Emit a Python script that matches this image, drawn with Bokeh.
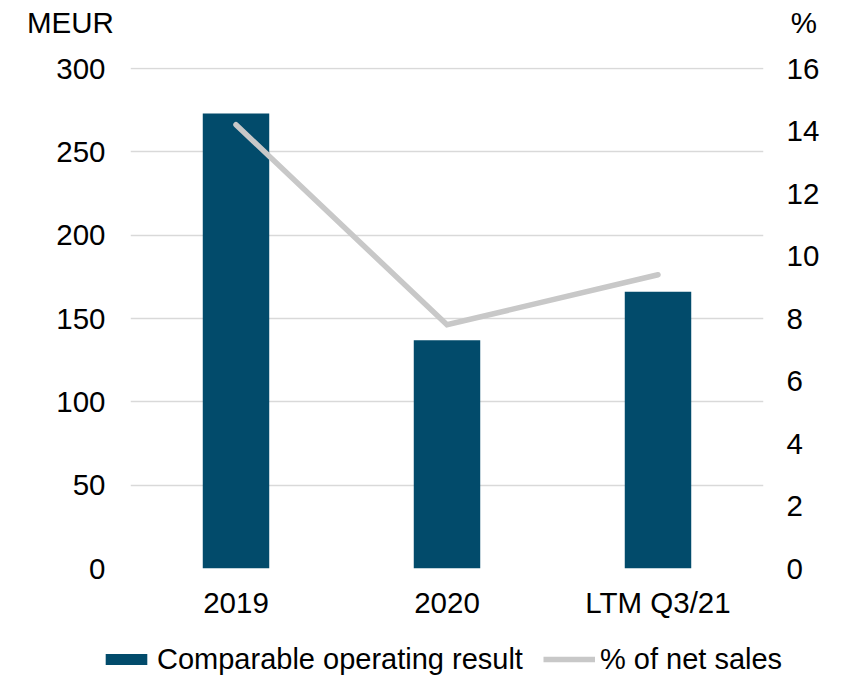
from bokeh.plotting import figure
from bokeh.models import (ColumnDataSource, LinearAxis, Range1d, Legend, LegendItem,
                          FixedTicker)
from bokeh.layouts import column
from bokeh.embed import file_html
from bokeh.resources import INLINE

categories = ["2019", "2020", "LTM Q3/21"]
operating_result = [273, 137, 166]
pct_net_sales = [14.2, 7.8, 9.4]
left_ticks = [0, 50, 100, 150, 200, 250, 300]
right_ticks = [0, 2, 4, 6, 8, 10, 12, 14, 16]
left_unit = "MEUR"
right_unit = "%"
series_names = ["Comparable operating result", "% of net sales"]

BAR = "#024B6B"
LINE = "#C8C8C8"
FONT = "Liberation Sans"
FS = "29.5px"
LFS = "29px"
W = 843
HEAD_H, FOOT_H = 40, 50
MAIN_H = 676 - HEAD_H - FOOT_H

xpos = list(range(len(categories)))
src = ColumnDataSource(dict(x=xpos, val=operating_result, pct=pct_net_sales))


def blank(h):
    # helper strip whose ranges lie away from the data, so only its legend shows
    f = figure(width=W, height=h, frame_width=W, frame_height=h,
               x_range=Range1d(10, 11), y_range=Range1d(1000, 1001),
               min_border=0, x_axis_type=None, y_axis_type=None,
               output_backend="svg", toolbar_location=None, outline_line_color=None)
    f.grid.visible = False
    return f


def strip_legend(items, loc, gw, gh, standoff, spacing, size):
    return Legend(items=items, orientation="horizontal", nrows=1, location=loc,
                  glyph_width=gw, glyph_height=gh, label_standoff=standoff, spacing=spacing,
                  label_text_font=FONT, label_text_font_size=size,
                  label_text_color="#000000", border_line_color=None,
                  background_fill_alpha=0, padding=0, margin=0)


# ---- header with unit labels ----
head = blank(HEAD_H)
hidden = head.scatter(x="x", y="val", source=src, fill_alpha=0, line_alpha=0, size=1)
head.add_layout(strip_legend([LegendItem(label=left_unit, renderers=[hidden]),
                              LegendItem(label=right_unit, renderers=[hidden])],
                             (26, 0.5), 1, 1, 0, 676, FS), "center")

# ---- main chart ----
# ranges padded by one pixel so the top gridline is not clipped
p = figure(x_range=Range1d(-0.5, len(categories) - 0.5), y_range=Range1d(0, 300.6),
           width=W, height=MAIN_H, frame_width=633, frame_height=501,
           min_border_left=130, min_border_right=80, min_border_top=27,
           min_border_bottom=MAIN_H - 27 - 501,
           output_backend="svg", toolbar_location=None, outline_line_color=None)
p.extra_y_ranges = {"pct": Range1d(0, 16.032)}

p.vbar(x="x", top="val", width=0.315, source=src, fill_color=BAR, line_color=None)
p.line(x="x", y="pct", source=src, y_range_name="pct", line_color=LINE,
       line_width=5.5, line_cap="round", line_join="miter")

p.xgrid.grid_line_color = None
p.ygrid.grid_line_color = "#D9D9D9"
p.ygrid.grid_line_width = 1.5
p.ygrid.ticker = FixedTicker(ticks=left_ticks)

p.xaxis.ticker = FixedTicker(ticks=xpos)
p.xaxis.major_label_overrides = {i: c for i, c in zip(xpos, categories)}
p.xaxis.major_label_standoff = 17

p.yaxis[0].ticker = FixedTicker(ticks=left_ticks)
p.yaxis[0].major_label_standoff = 25

ra = LinearAxis(y_range_name="pct", ticker=FixedTicker(ticks=right_ticks))
ra.major_label_standoff = 23
p.add_layout(ra, "right")

for ax in p.xaxis + p.yaxis + [ra]:
    ax.axis_line_color = None
    ax.major_tick_line_color = None
    ax.minor_tick_line_color = None
    ax.major_tick_out = 0
    ax.major_tick_in = 0
    ax.minor_tick_out = 0
    ax.major_label_text_font = FONT
    ax.major_label_text_font_size = FS
    ax.major_label_text_color = "#000000"

# ---- footer legend ----
foot = blank(FOOT_H)
lb = foot.vbar(x="x", top="val", width=0.315, source=src, fill_color=BAR, line_color=None)
ll = foot.line(x="x", y="pct", source=src, line_color=LINE, line_width=5.5, line_cap="butt")
foot.add_layout(strip_legend([LegendItem(label=series_names[0], renderers=[lb]),
                              LegendItem(label=series_names[1], renderers=[ll])],
                             (100, 0.5), 52, 14, 5, 20, LFS), "center")

layout = column(head, p, foot, spacing=0)
open("out.html", "w").write(file_html(layout, INLINE))
